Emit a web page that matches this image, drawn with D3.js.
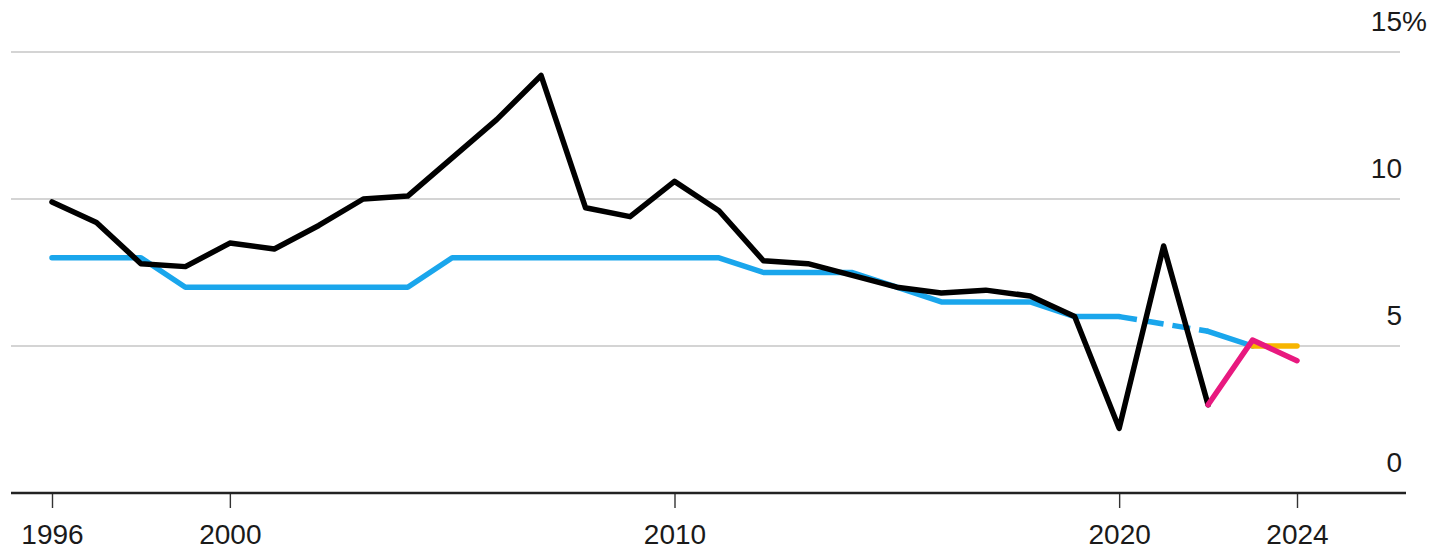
<!DOCTYPE html>
<html>
<head>
<meta charset="utf-8">
<script src="https://cdn.jsdelivr.net/npm/d3@7"></script>
<style>
  html, body { margin: 0; padding: 0; background: #fff; }
  svg { display: block; font-family: "Liberation Sans", Arial, Helvetica, sans-serif; }
</style>
</head>
<body>
<svg id="chart" width="1455" height="555"></svg>
<script>
// Annual GDP growth (actual), %
const actualYears = [1996,1997,1998,1999,2000,2001,2002,2003,2004,2005,2006,2007,2008,2009,2010,2011,2012,2013,2014,2015,2016,2017,2018,2019,2020,2021,2022];
const actualValues = [9.9,9.2,7.8,7.7,8.5,8.3,9.1,10.0,10.1,11.4,12.7,14.2,9.7,9.4,10.6,9.6,7.9,7.8,7.4,7.0,6.8,6.9,6.7,6.0,2.2,8.4,3.0];

// Official growth target, %
const targetYears = [1996,1997,1998,1999,2000,2001,2002,2003,2004,2005,2006,2007,2008,2009,2010,2011,2012,2013,2014,2015,2016,2017,2018,2019,2020];
const targetValues = [8,8,8,7,7,7,7,7,7,8,8,8,8,8,8,8,7.5,7.5,7.5,7,6.5,6.5,6.5,6,6];
const targetGapYears = [2020,2022];
const targetGapValues = [6,5.5];
const targetLateYears = [2022,2023];
const targetLateValues = [5.5,5];

// Latest target and recent/forecast growth
const latestTargetYears = [2023,2024];
const latestTargetValues = [5,5];
const recentYears = [2022,2023,2024];
const recentValues = [3.0,5.2,4.5];

const yTicks = [0,5,10,15];
const xTicks = [1996,2000,2010,2020,2024];

const svg = d3.select("#chart");
const x = d3.scaleLinear().domain([1996,2024]).range([52,1297]);
const y = d3.scaleLinear().domain([0,15]).range([493,52]);

// gridlines
svg.append("g").selectAll("line")
  .data(yTicks.filter(d => d > 0))
  .join("line")
  .attr("x1", 11).attr("x2", 1400)
  .attr("y1", d => y(d)).attr("y2", d => y(d))
  .attr("stroke", "#d4d4d4").attr("stroke-width", 2);

// y labels (right side, above lines)
svg.append("g").selectAll("text")
  .data(yTicks)
  .join("text")
  .attr("x", 1402)
  .attr("y", d => y(d) - 21)
  .attr("text-anchor", "end")
  .attr("font-size", 28)
  .attr("fill", "#1a1a1a")
  .text(d => d);
svg.append("text")
  .attr("x", 1402).attr("y", y(15) - 21)
  .attr("font-size", 28).attr("fill", "#1a1a1a")
  .text("%");

// x axis
const xAxis = d3.axisBottom(x).tickValues(xTicks).tickFormat(d3.format("d")).tickSize(15).tickPadding(16);
const gx = svg.append("g").attr("transform", `translate(0,${y(0)})`).call(xAxis);
gx.select(".domain").remove();
gx.selectAll(".tick line").attr("stroke", "#333").attr("stroke-width", 1.4);
gx.selectAll(".tick text").attr("font-size", 28).attr("fill", "#1a1a1a").attr("font-family", "Liberation Sans, Arial, sans-serif");
svg.append("line")
  .attr("x1", 11).attr("x2", 1406)
  .attr("y1", y(0)).attr("y2", y(0))
  .attr("stroke", "#222").attr("stroke-width", 2.5);

const line = d3.line().x(d => x(d[0])).y(d => y(d[1]));
const zip = (a, b) => a.map((v, i) => [v, b[i]]);

function draw(data, color, dash) {
  svg.append("path")
    .datum(data)
    .attr("d", line)
    .attr("fill", "none")
    .attr("stroke", color)
    .attr("stroke-width", 5.5)
    .attr("stroke-linejoin", "round")
    .attr("stroke-linecap", dash ? "butt" : "round")
    .attr("stroke-dasharray", dash || null);
}

draw(zip(targetYears, targetValues), "#1aa6ec");
draw(zip(targetGapYears, targetGapValues), "#1aa6ec", "18,9");
draw(zip(targetLateYears, targetLateValues), "#1aa6ec");
draw(zip(latestTargetYears, latestTargetValues), "#f7b500");
draw(zip(actualYears, actualValues), "#000");
draw(zip(recentYears, recentValues), "#e8197f");
</script>
</body>
</html>
